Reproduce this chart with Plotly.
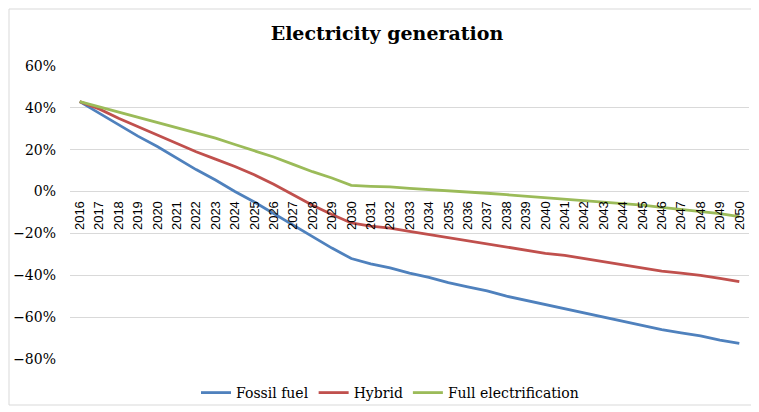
import plotly.graph_objects as go

years = [str(y) for y in range(2016, 2051)]

fossil_fuel = [43, 37.5, 32, 26.5, 21.5, 16, 10.5, 5.5, 0, -5, -10.5, -16, -21.5, -27, -32,
               -34.5, -36.5, -39, -41, -43.5, -45.5, -47.5, -50, -52, -54, -56, -58, -60,
               -62, -64, -66, -67.5, -69, -71, -72.5]
hybrid = [43, 39.5, 35, 31, 27, 23, 19, 15.5, 12, 8, 3.5, -1.5, -6.5, -11, -15,
          -16.5, -17.5, -19, -20.5, -22, -23.5, -25, -26.5, -28, -29.5, -30.5, -32, -33.5,
          -35, -36.5, -38, -39, -40, -41.5, -43]
full_electrification = [43, 40.5, 38, 35.5, 33, 30.5, 28, 25.5, 22.5, 19.5, 16.5, 13, 9.5, 6.5, 3,
                        2.5, 2.2, 1.5, 1, 0.2, -0.2, -0.8, -1.5, -2.2, -2.8, -3.5, -4.3, -5,
                        -5.7, -6.5, -7.5, -8.5, -9.2, -10.5, -12]

series = [
    ("Fossil fuel", fossil_fuel, "#4F81BD"),
    ("Hybrid", hybrid, "#C0504D"),
    ("Full electrification", full_electrification, "#9BBB59"),
]

fig = go.Figure()
for name, vals, color in series:
    fig.add_trace(go.Scatter(
        x=years, y=[v / 100 for v in vals], name=name, mode="lines",
        line=dict(color=color, width=2.8),
    ))

serif = "Georgia, 'DejaVu Serif', serif"
W, H = 751, 404  # page body has an 8px margin

fig.update_layout(
    width=W, height=H,
    margin=dict(l=62, r=10, t=58, b=53, autoexpand=False),
    paper_bgcolor="white", plot_bgcolor="white",
    title=dict(text="<b>Electricity generation</b>", x=(387 - 8) / W, xanchor="center",
               y=1 - (33 - 8) / H, yanchor="middle", yref="container",
               font=dict(family=serif, size=19, color="black")),
    xaxis=dict(type="category", anchor="free", position=0.8 / 1.4,
               tickangle=-90, showgrid=False, showline=False, ticks="",
               ticklabelstandoff=6,
               tickfont=dict(family="Arial, 'Liberation Sans', sans-serif", size=13, color="black"),
               range=[-0.5, len(years) - 0.5], automargin=False),
    yaxis=dict(range=[-0.8, 0.6], dtick=0.2, tick0=0, tickformat=".0%",
               showgrid=True, gridcolor="#d9d9d9", gridwidth=1,
               zeroline=True, zerolinecolor="#d9d9d9", zerolinewidth=1,
               showline=False, ticks="", ticklabelstandoff=13, automargin=False,
               tickfont=dict(family=serif, size=14, color="black")),
    legend=dict(orientation="h", x=(390 - 8) / W, xanchor="center", xref="container",
                y=1 - (393 - 8) / H, yanchor="middle", yref="container",
                font=dict(family=serif, size=14, color="black"),
                itemwidth=30, bgcolor="rgba(0,0,0,0)"),
    showlegend=True,
)

fig.add_shape(type="rect", xref="paper", yref="paper",
              x0=(9 - 70) / 679, x1=(752 - 70) / 679,
              y0=(359 - 405) / 293, y1=(359 - 9) / 293,
              line=dict(color="#d9d9d9", width=1), layer="below")

fig.write_html("out.html")
